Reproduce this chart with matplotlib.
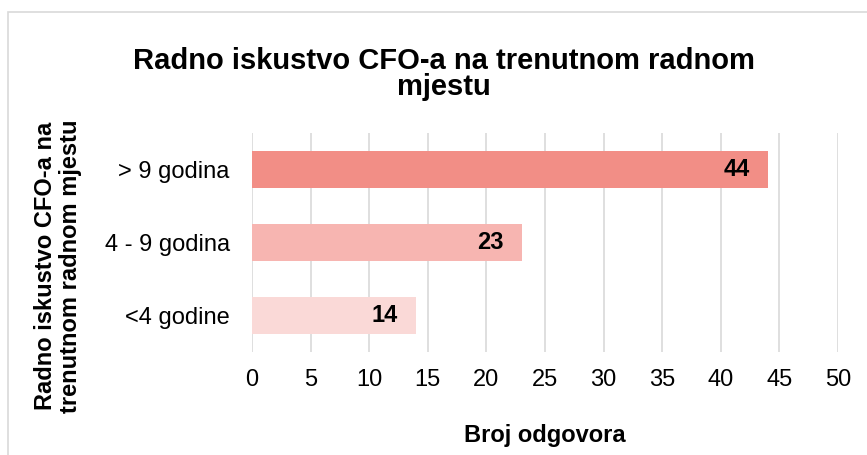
import matplotlib.pyplot as plt
from matplotlib.patches import Rectangle

plt.rcParams['font.family'] = ['Liberation Sans', 'DejaVu Sans']

# Data
categories = ['<4 godine', '4 - 9 godina', '> 9 godina']
values = [14, 23, 44]
colors = ['#FAD9D7', '#F7B5B1', '#F28E86']
x_ticks = [0, 5, 10, 15, 20, 25, 30, 35, 40, 45, 50]

W, H = 867, 455
fig = plt.figure(figsize=(W / 100, H / 100), dpi=100)

# outer chart frame
fig.patches.append(Rectangle((8 / W, -0.1), 1.2, 1 - 12 / H + 0.1,
                             transform=fig.transFigure, fill=False,
                             edgecolor='#D9D9D9', linewidth=1.2))

ax = fig.add_axes([252 / W, 1 - 352 / H, (838 - 252) / W, (352 - 133) / H])

y = range(len(categories))
ax.barh(y, values, height=0.5, color=colors, zorder=3)

for yi, v in zip(y, values):
    ax.annotate(str(v), xy=(v, yi), xytext=(-13, 0), textcoords='offset points',
                ha='right', va='center', fontsize=17, fontweight='bold', zorder=4)

ax.set_xlim(0, 50)
ax.set_ylim(-0.5, 2.5)
ax.set_xticks(x_ticks)
ax.set_yticks(list(y))
ax.set_yticklabels(categories)
ax.tick_params(axis='both', length=0, labelsize=17)
ax.tick_params(axis='x', pad=12)
ax.tick_params(axis='y', pad=16)
ax.grid(axis='x', color='#D9D9D9', linewidth=1.2, zorder=0)
for s in ax.spines.values():
    s.set_visible(False)

ax.set_xlabel('Broj odgovora', fontsize=17, fontweight='bold', labelpad=24)

fig.text(58 / W, 1 - 266 / H, 'Radno iskustvo CFO-a na\ntrenutnom radnom mjestu',
         rotation=90, ha='center', va='center', fontsize=17, fontweight='bold',
         linespacing=1.15)

fig.text(444 / W, 1 - 74 / H, 'Radno iskustvo CFO-a na trenutnom radnom\nmjestu',
         ha='center', va='center', fontsize=21, fontweight='bold', linespacing=0.95)

fig.savefig('out.png', dpi=100)
